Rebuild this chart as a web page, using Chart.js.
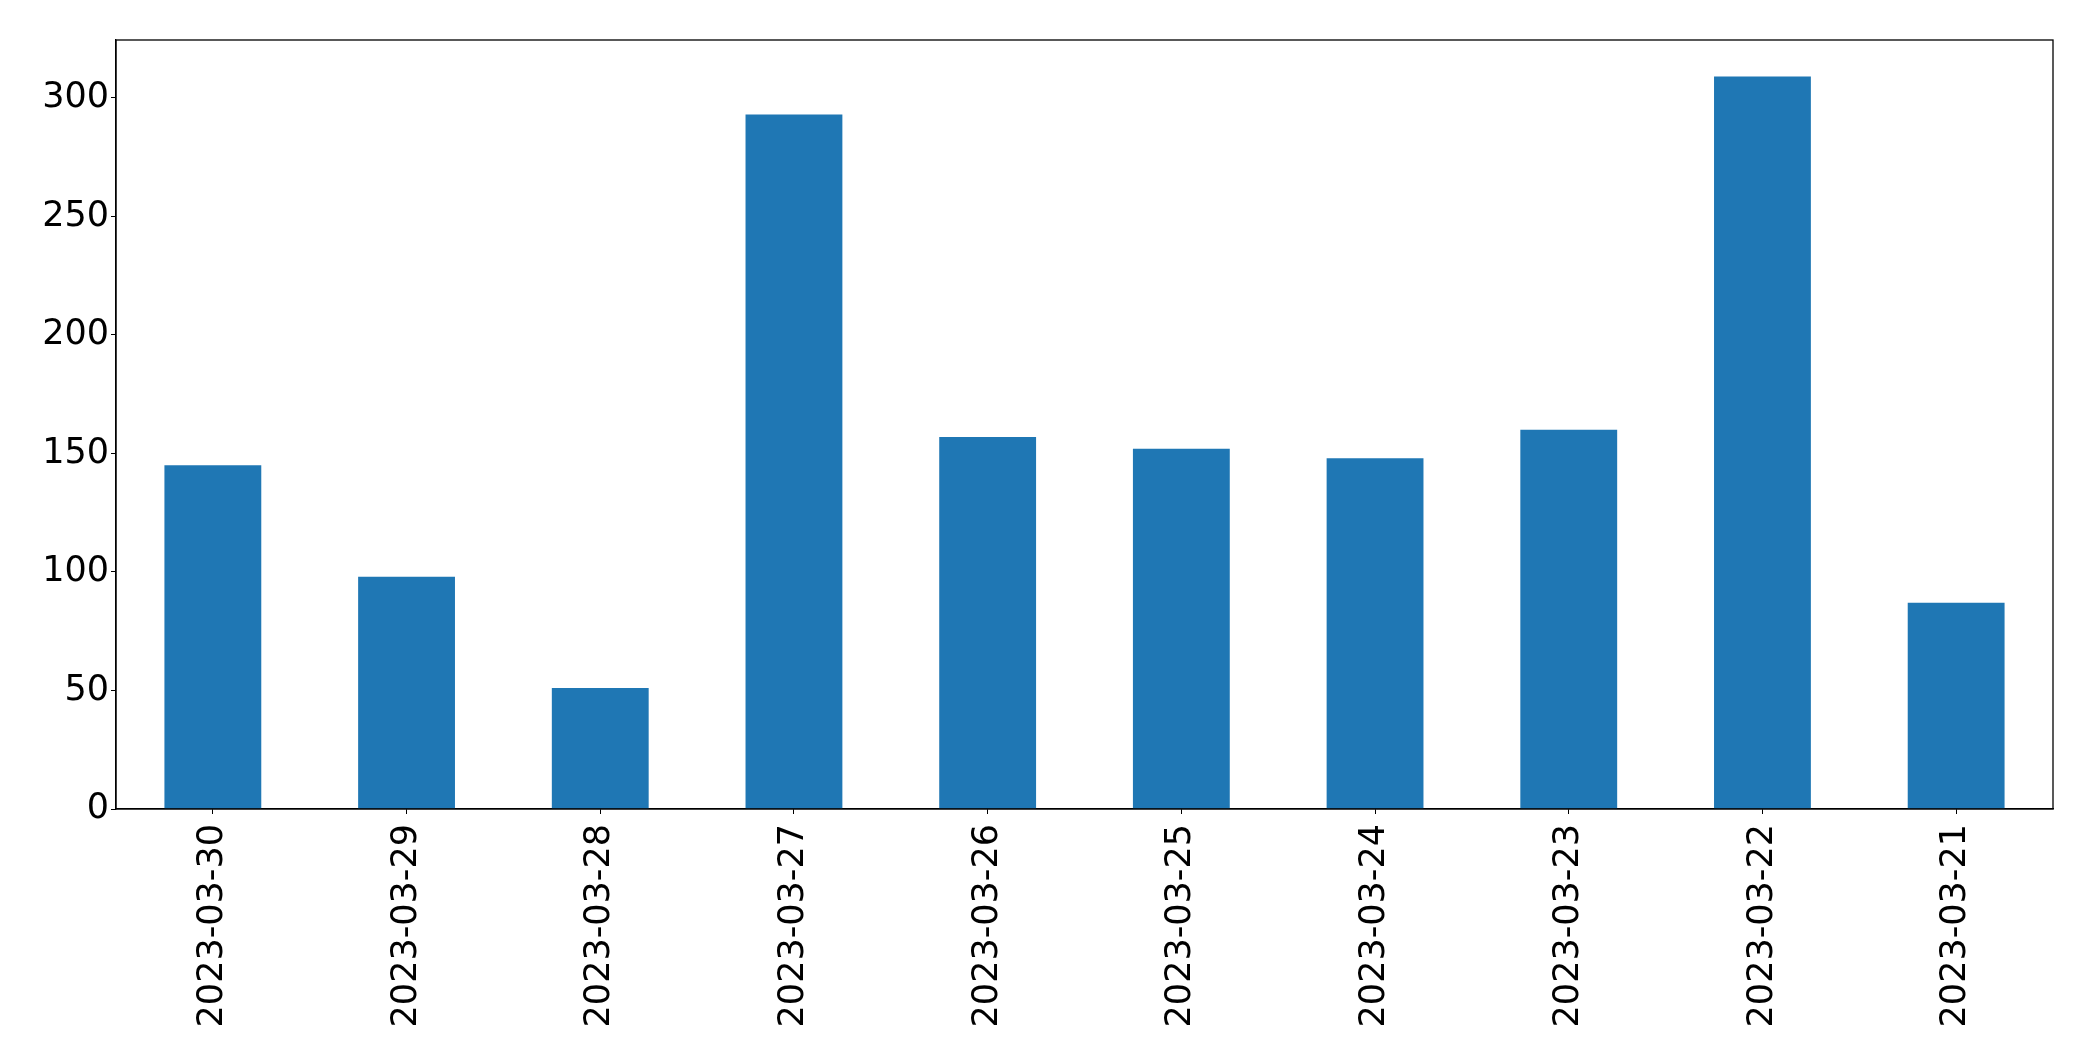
<!DOCTYPE html>
<html lang="en">
<head>
    <meta charset="UTF-8">
    <title>Daily values</title>
    <script src="https://cdn.jsdelivr.net/npm/chart.js"></script>
    <style>
        html, body { margin: 0; padding: 0; background: #ffffff; }
        .chart-box { position: relative; width: 2093px; height: 1061px; }
    </style>
</head>
<body>
    <div class="chart-box">
        <canvas id="myChart"></canvas>
    </div>
<script>
    // data
    const dates = ['2023-03-30', '2023-03-29', '2023-03-28', '2023-03-27', '2023-03-26',
                   '2023-03-25', '2023-03-24', '2023-03-23', '2023-03-22', '2023-03-21'];
    const values = [145, 98, 51, 293, 157, 152, 148, 160, 309, 87];
    const yTicks = [0, 50, 100, 150, 200, 250, 300];

    const yMax = 324.45;
    const tickFont = { family: 'DejaVu Sans', size: 35 };

    // frame around the plot area (top and right sides)
    const frame = {
        id: 'frame',
        afterDraw(chart) {
            const a = chart.chartArea;
            const c = chart.ctx;
            c.save();
            c.strokeStyle = '#000';
            c.lineWidth = 1.3;
            c.strokeRect(a.left, a.top, a.right - a.left, a.bottom - a.top);
            c.restore();
        }
    };

    new Chart(document.getElementById('myChart').getContext('2d'), {
        type: 'bar',
        data: {
            labels: dates,
            datasets: [{
                data: values,
                backgroundColor: '#1f77b4',
                borderWidth: 0,
                categoryPercentage: 1.0,
                barPercentage: 0.5
            }]
        },
        options: {
            responsive: true,
            maintainAspectRatio: false,
            animation: false,
            layout: { padding: { top: 40, right: 40, left: 0, bottom: 0 } },
            plugins: {
                legend: { display: false },
                tooltip: { enabled: false }
            },
            scales: {
                x: {
                    afterFit(s) { s.height = 252; },
                    grid: { offset: false, drawOnChartArea: false, drawTicks: true, tickLength: 5, tickColor: '#000' },
                    border: { color: '#000', width: 1.3 },
                    ticks: {
                        font: tickFont,
                        color: '#000',
                        minRotation: 90,
                        maxRotation: 90,
                        autoSkip: false,
                        padding: 10
                    }
                },
                y: {
                    min: 0,
                    max: yMax,
                    afterFit(s) { s.width = 116; },
                    afterBuildTicks(s) { s.ticks = yTicks.map(v => ({ value: v })); },
                    grid: { drawOnChartArea: false, drawTicks: true, tickLength: 5, tickColor: '#000' },
                    border: { color: '#000', width: 1.3 },
                    ticks: {
                        font: tickFont,
                        color: '#000',
                        padding: 2
                    }
                }
            }
        },
        plugins: [frame]
    });
</script>
</body>
</html>
